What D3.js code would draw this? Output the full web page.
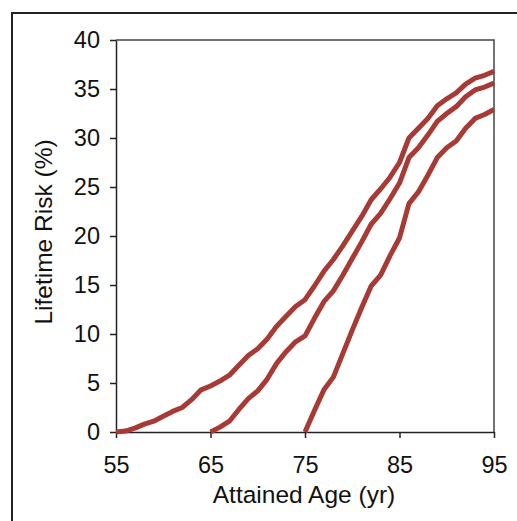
<!DOCTYPE html>
<html>
<head>
<meta charset="utf-8">
<script src="https://cdn.jsdelivr.net/npm/d3@7"></script>
<style>
  html, body { margin: 0; padding: 0; background: #fff; }
  svg { display: block; font-family: "Liberation Sans", Arial, sans-serif; }
  .axis path, .axis line { stroke: #222; stroke-width: 1.5; }
  .axis text { font-size: 23.5px; fill: #111; }
  .axis-title { font-size: 24.5px; fill: #111; }
  .path-risk { fill: none; stroke: #a83a35; stroke-width: 5; stroke-linejoin: round; }
</style>
</head>
<body>
<div id="chart"></div>
<script>
// Lifetime risk (%) by attained age, for three starting ages
const agesFrom55 = d3.range(55, 96)
const riskFrom55 = [0, 0.1, 0.4, 0.8, 1.1, 1.6, 2.1, 2.5, 3.3, 4.3,
  4.7, 5.2, 5.8, 6.8, 7.8, 8.5, 9.5, 10.8, 11.8, 12.8,
  13.5, 14.9, 16.4, 17.6, 19.0, 20.5, 22.0, 23.7, 24.8, 26.0,
  27.5, 30.0, 31.0, 32.0, 33.3, 34.0, 34.6, 35.5, 36.1, 36.4, 36.8]

const agesFrom65 = d3.range(65, 96)
const riskFrom65 = [0, 0.5, 1.1, 2.3, 3.4, 4.2, 5.4, 7.0, 8.2, 9.2,
  9.8, 11.6, 13.3, 14.4, 16.0, 17.7, 19.4, 21.2, 22.3, 23.8,
  25.4, 28.0, 29.0, 30.3, 31.7, 32.5, 33.2, 34.2, 34.9, 35.2, 35.6]

const agesFrom75 = d3.range(75, 96)
const riskFrom75 = [0, 2.2, 4.3, 5.6, 8.0, 10.4, 12.7, 14.9, 16.0, 18.0,
  19.8, 23.3, 24.5, 26.2, 28.0, 29.0, 29.7, 31.0, 32.0, 32.4, 32.9]

const xTicks = [55, 65, 75, 85, 95]
const yTicks = [0, 5, 10, 15, 20, 25, 30, 35, 40]
const xTitle = 'Attained Age (yr)'
const yTitle = 'Lifetime Risk (%)'

const series = [
  agesFrom55.map((a, i) => ({ age: a, risk: riskFrom55[i] })),
  agesFrom65.map((a, i) => ({ age: a, risk: riskFrom65[i] })),
  agesFrom75.map((a, i) => ({ age: a, risk: riskFrom75[i] }))
]

const width = 517
const height = 521
const margin = { top: 40, right: 23, bottom: 89, left: 116 }
const innerWidth = width - margin.left - margin.right
const innerHeight = height - margin.top - margin.bottom

const svg = d3.select('#chart')
  .append('svg')
  .attr('width', width)
  .attr('height', height)

// outer frame: only its top and left edges are in view
svg.append('path')
  .attr('d', `M12,${height}V13H${width}`)
  .attr('fill', 'none')
  .attr('stroke', '#222')
  .attr('stroke-width', 2)

const g = svg.append('g')
  .attr('transform', `translate(${margin.left}, ${margin.top})`)

const xScale = d3.scaleLinear().domain([55, 95]).range([0, innerWidth])
const yScale = d3.scaleLinear().domain([0, 40]).range([innerHeight, 0])

// top and right border of the plot box
g.append('path')
  .attr('d', `M0,0H${innerWidth}V${innerHeight}`)
  .attr('fill', 'none')
  .attr('stroke', '#444')
  .attr('stroke-width', 1.5)

g.append('g')
  .attr('class', 'axis')
  .attr('transform', `translate(0, ${innerHeight})`)
  .call(d3.axisBottom(xScale).tickValues(xTicks).tickSize(6).tickSizeOuter(0).tickPadding(18))

g.append('g')
  .attr('class', 'axis')
  .call(d3.axisLeft(yScale).tickValues(yTicks).tickSize(6).tickSizeOuter(0).tickPadding(10))

const line = d3.line()
  .x(d => xScale(d.age))
  .y(d => yScale(d.risk))

g.selectAll('.path-risk')
  .data(series)
  .join('path')
  .attr('class', 'path-risk')
  .attr('d', line)

svg.append('text')
  .attr('class', 'axis-title')
  .attr('x', margin.left + xScale(75) - 1)
  .attr('y', 503)
  .attr('text-anchor', 'middle')
  .text(xTitle)

svg.append('text')
  .attr('class', 'axis-title')
  .attr('transform', `translate(52, ${margin.top + yScale(20) - 4}) rotate(-90)`)
  .attr('text-anchor', 'middle')
  .text(yTitle)
</script>
</body>
</html>
